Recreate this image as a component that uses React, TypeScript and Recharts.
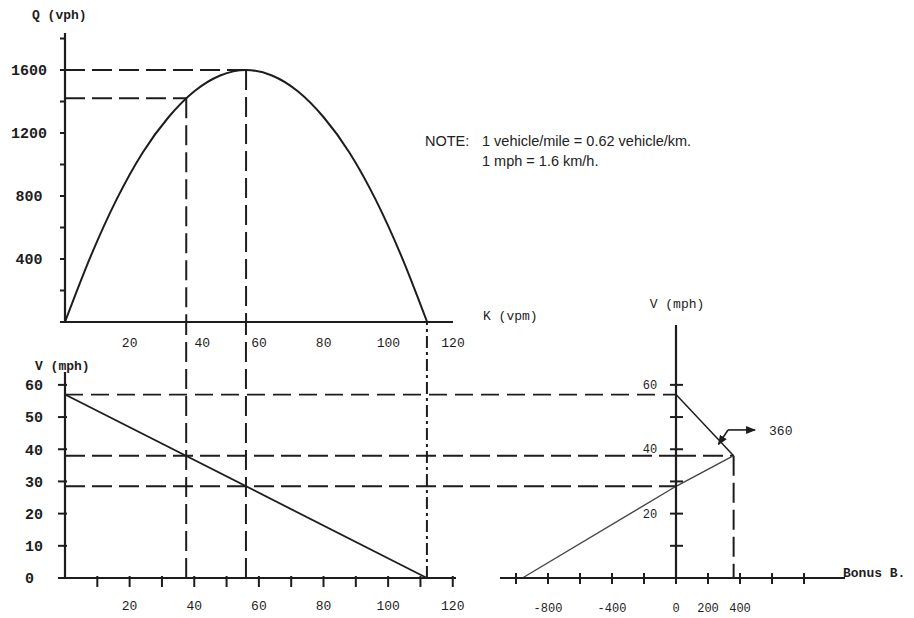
import React from 'react';
import { ComposedChart, Line, XAxis, YAxis, ReferenceLine } from 'recharts';

// flow-density curve
const densityK = [0, 8, 16, 24, 32, 40, 48, 56, 64, 72, 80, 88, 96, 104, 112];
const flowQ = [0, 420, 780, 1075, 1300, 1465, 1565, 1600, 1565, 1465, 1300, 1075, 780, 420, 0];

// speed-density line (bottom left)
const speedK = [0, 112];
const speedV = [57, 0];

// speed-bonus lines (bottom right)
const bonusLowB = [-960, 0, 360];
const bonusLowV = [0, 28.5, 38];
const bonusHighB = [360, 0];
const bonusHighV = [38, 57];

// arrow pointing at the optimum, labelled 360
const arrowB = [265, 325, 494];
const arrowV = [41.5, 46, 46];

const qTicks = [0, 200, 400, 600, 800, 1000, 1200, 1400, 1600, 1800];
const qLabels = [400, 800, 1200, 1600];
const kTopTicks = [20, 40, 60, 80, 100, 120];
const kBottomTicks = [10, 20, 30, 40, 50, 60, 70, 80, 90, 100, 110, 120];
const kBottomLabels = [20, 40, 60, 80, 100, 120];
const vTicks = [0, 10, 20, 30, 40, 50, 60];
const vRightTicks = [10, 20, 30, 40, 50, 60];
const vRightLabels = [20, 40, 60];
const bTicks = [-1000, -800, -600, -400, -200, 0, 200, 400, 600, 800];
const bLabels = [-800, -400, 0, 200, 400];

// key values of the construction
const K_OP = 37.5;
const K_MAXQ = 56;
const K_JAM = 112;
const Q_MAX = 1600;
const Q_OP = 1420;
const V_FREE = 57;
const V_OP = 38;
const V_MAXQ = 28.5;
const B_OP = 360;

// axis extents
const Q_TOP = 1835;
const V_LEFT_TOP = 64;
const V_RIGHT_TOP = 78.6;
const V_AT_TOP_AXIS = 79.5;
const K_AT_RIGHT_AXIS = 189;

const W = 914;
const H = 618;
const INK = '#1d1d1d';
const MONO = '"Liberation Mono", "DejaVu Sans Mono", monospace';
const SANS = '"Liberation Sans", Arial, sans-serif';
const DASH = '20 7';

const flowData = densityK.map((k, i) => ({ k, q: flowQ[i] }));
const speedData = speedK.map((k, i) => ({ k, v: speedV[i] }));
const bonusLow = bonusLowB.map((b, i) => ({ b, v: bonusLowV[i] }));
const bonusHigh = bonusHighB.map((b, i) => ({ b, v: bonusHighV[i] }));
const rightAxisData = vRightTicks.map((v) => ({ v }));

const txt = (size: number, weight: number | string = 'normal') => ({
  fontFamily: MONO,
  fontSize: size,
  fontWeight: weight,
  fill: INK,
});

function yTick(labels: number[], left: number, right: number, dx: number, anchor: string, size: number, bold = false) {
  return (p: any) => {
    const { x, y, payload } = p;
    return (
      <g>
        <line x1={x - left} x2={x + right} y1={y} y2={y} stroke={INK} strokeWidth={2} />
        {labels.includes(payload.value) && (
          <text x={x + dx} y={y} dy="0.35em" textAnchor={anchor} {...txt(size, bold ? 'bold' : 'normal')}>
            {payload.value}
          </text>
        )}
      </g>
    );
  };
}

function xTick(labels: number[], up: number, down: number, dy: number, size: number, avoid?: number) {
  return (p: any) => {
    const { x, y, payload } = p;
    // the top axis nudges a label off the dashed drop line
    const nudge = avoid !== undefined && Math.abs(payload.value - avoid) < 4 ? 8 : 0;
    return (
      <g>
        {up + down > 0 && <line x1={x} x2={x} y1={y - up} y2={y + down} stroke={INK} strokeWidth={2} />}
        {labels.includes(payload.value) && (
          <text x={x + nudge} y={y + dy} dy="0.35em" textAnchor="middle" {...txt(size)}>
            {payload.value}
          </text>
        )}
      </g>
    );
  };
}

const layer: React.CSSProperties = { position: 'absolute', left: 0, top: 0 };
const axisLine = { stroke: INK, strokeWidth: 2.2 };
const dashed = { stroke: INK, strokeWidth: 2, strokeDasharray: DASH };

export default function App() {
  return (
    <div style={{ position: 'absolute', left: 0, top: 0, width: W, height: H, background: '#fff' }}>
      <svg width={0} height={0} style={{ position: 'absolute' }}>
        <defs>
          <marker id="arrowHead" viewBox="0 0 10 10" refX="9" refY="5" markerWidth="10" markerHeight="10" orient="auto" markerUnits="userSpaceOnUse">
            <path d="M0,1 L10,5 L0,9 z" fill={INK} />
          </marker>
        </defs>
      </svg>

      {/* top: flow vs density */}
      <div style={layer}>
        <ComposedChart width={W} height={H} data={flowData} margin={{ top: 33, right: 461, bottom: 266, left: 0 }}>
          <XAxis
            dataKey="k"
            type="number"
            domain={[0, 120]}
            ticks={kTopTicks}
            interval={0}
            height={30}
            axisLine={axisLine}
            tickLine={false}
            tickSize={0}
            tickMargin={0}
            tick={xTick(kTopTicks, 0, 0, 20, 13, K_OP)}
            label={{
              content: ({ viewBox }: any) => (
                <text x={viewBox.x + viewBox.width + 30} y={viewBox.y - 7} dy="0.35em" {...txt(13)}>
                  K (vpm)
                </text>
              ),
            }}
          />
          <YAxis
            type="number"
            domain={[0, Q_TOP]}
            ticks={qTicks}
            interval={0}
            width={65}
            axisLine={axisLine}
            tickLine={false}
            tickSize={0}
            tickMargin={0}
            tick={yTick(qLabels, 5, 1, -36, 'middle', 15, true)}
            label={{
              content: ({ viewBox }: any) => (
                <text x={viewBox.x + 32} y={viewBox.y - 19} dy="0.35em" {...txt(13, 'bold')}>
                  Q (vph)
                </text>
              ),
            }}
          />
          <ReferenceLine segment={[{ x: 0, y: Q_MAX }, { x: K_MAXQ, y: Q_MAX }]} {...dashed} />
          <ReferenceLine segment={[{ x: 0, y: Q_OP }, { x: K_OP, y: Q_OP }]} {...dashed} />
          <ReferenceLine segment={[{ x: K_MAXQ, y: Q_MAX }, { x: K_MAXQ, y: 0 }]} {...dashed} />
          <ReferenceLine segment={[{ x: K_OP, y: Q_OP }, { x: K_OP, y: 0 }]} {...dashed} />
          <Line dataKey="q" type="monotone" stroke={INK} strokeWidth={2} dot={false} isAnimationActive={false} />
        </ComposedChart>
      </div>

      {/* bottom left: speed vs density */}
      <div style={layer}>
        <ComposedChart width={W} height={H} data={speedData} margin={{ top: 372, right: 458, bottom: 10, left: 0 }}>
          <XAxis
            dataKey="k"
            type="number"
            domain={[0, 121]}
            ticks={kBottomTicks}
            interval={0}
            height={30}
            axisLine={axisLine}
            tickLine={false}
            tickSize={0}
            tickMargin={0}
            tick={xTick(kBottomLabels, 2, 9, 27, 13)}
          />
          <YAxis
            type="number"
            domain={[0, V_LEFT_TOP]}
            ticks={vTicks}
            interval={0}
            width={65}
            axisLine={axisLine}
            tickLine={false}
            tickSize={0}
            tickMargin={0}
            tick={yTick(vTicks, 7, 2, -40, 'start', 15, true)}
            label={{
              content: ({ viewBox }: any) => (
                <text x={viewBox.x + 35} y={viewBox.y - 7} dy="0.35em" {...txt(13, 'bold')}>
                  V (mph)
                </text>
              ),
            }}
          />
          <ReferenceLine ifOverflow="visible" segment={[{ x: 0, y: V_FREE }, { x: K_AT_RIGHT_AXIS, y: V_FREE }]} stroke={INK} strokeWidth={1.8} strokeDasharray="18 8" />
          <ReferenceLine ifOverflow="visible" segment={[{ x: 0, y: V_OP }, { x: K_AT_RIGHT_AXIS, y: V_OP }]} {...dashed} />
          <ReferenceLine ifOverflow="visible" segment={[{ x: 0, y: V_MAXQ }, { x: K_AT_RIGHT_AXIS, y: V_MAXQ }]} {...dashed} />
          <ReferenceLine ifOverflow="visible" segment={[{ x: K_OP, y: 0 }, { x: K_OP, y: V_AT_TOP_AXIS }]} {...dashed} />
          <ReferenceLine ifOverflow="visible" segment={[{ x: K_MAXQ, y: 0 }, { x: K_MAXQ, y: V_AT_TOP_AXIS }]} {...dashed} />
          <ReferenceLine ifOverflow="visible" segment={[{ x: K_JAM, y: 0 }, { x: K_JAM, y: V_AT_TOP_AXIS }]} stroke={INK} strokeWidth={2} strokeDasharray="12 4 3 4" />
          <Line dataKey="v" type="linear" stroke={INK} strokeWidth={1.8} dot={false} isAnimationActive={false} />
        </ComposedChart>
      </div>

      {/* bottom right: speed vs bonus */}
      <div style={layer}>
        <ComposedChart width={W} height={H} margin={{ top: 325, right: 69, bottom: 10, left: 500 }}>
          <XAxis
            dataKey="b"
            type="number"
            domain={[-1100, 1056]}
            ticks={bTicks}
            interval={0}
            height={30}
            axisLine={axisLine}
            tickLine={false}
            tickSize={0}
            tickMargin={0}
            tick={xTick(bLabels, 5, 6, 30, 12)}
            label={{
              content: ({ viewBox }: any) => (
                <text x={viewBox.x + viewBox.width - 2} y={viewBox.y - 6} dy="0.35em" {...txt(13, 'bold')}>
                  Bonus B.
                </text>
              ),
            }}
          />
          <YAxis hide type="number" domain={[0, V_RIGHT_TOP]} />
          <ReferenceLine segment={[{ x: 0, y: V_OP }, { x: B_OP, y: V_OP }]} {...dashed} />
          <ReferenceLine segment={[{ x: B_OP, y: V_OP }, { x: B_OP, y: 0 }]} {...dashed} />
          <ReferenceLine
            segment={[{ x: arrowB[1], y: arrowV[1] }, { x: arrowB[0], y: arrowV[0] }]}
            stroke={INK}
            strokeWidth={1.6}
            markerEnd="url(#arrowHead)"
          />
          <ReferenceLine
            segment={[{ x: arrowB[1], y: arrowV[1] }, { x: arrowB[2], y: arrowV[2] }]}
            stroke={INK}
            strokeWidth={1.6}
            markerEnd="url(#arrowHead)"
            label={{ value: '360', position: 'right', offset: 14, ...txt(13) }}
          />
          <Line data={bonusLow} dataKey="v" type="linear" stroke="#444" strokeWidth={1.4} dot={false} isAnimationActive={false} />
          <Line data={bonusHigh} dataKey="v" type="linear" stroke={INK} strokeWidth={1.5} dot={false} isAnimationActive={false} />
        </ComposedChart>
      </div>

      {/* right-hand speed axis, sitting at B = 0 */}
      <div style={layer}>
        <ComposedChart width={W} height={H} data={rightAxisData} margin={{ top: 325, right: 230, bottom: 40, left: 616 }}>
          <XAxis hide type="number" domain={[0, 1]} />
          <YAxis
            dataKey="v"
            type="number"
            domain={[0, V_RIGHT_TOP]}
            ticks={vRightTicks}
            interval={0}
            width={60}
            axisLine={axisLine}
            tickLine={false}
            tickSize={0}
            tickMargin={0}
            tick={yTick(vRightLabels, 6, 7, -26, 'middle', 12)}
            label={{
              content: ({ viewBox }: any) => (
                <text x={viewBox.x + viewBox.width + 1} y={viewBox.y - 22} dy="0.35em" textAnchor="middle" {...txt(13)}>
                  V (mph)
                </text>
              ),
            }}
          />
        </ComposedChart>
      </div>

      <div
        style={{
          position: 'absolute',
          left: 425,
          top: 131,
          fontFamily: SANS,
          fontSize: 14.5,
          color: '#222',
          lineHeight: '20px',
          display: 'grid',
          gridTemplateColumns: '57px auto',
        }}
      >
        <span>NOTE:</span>
        <span>1 vehicle/mile = 0.62 vehicle/km.</span>
        <span />
        <span>1 mph = 1.6 km/h.</span>
      </div>
    </div>
  );
}
